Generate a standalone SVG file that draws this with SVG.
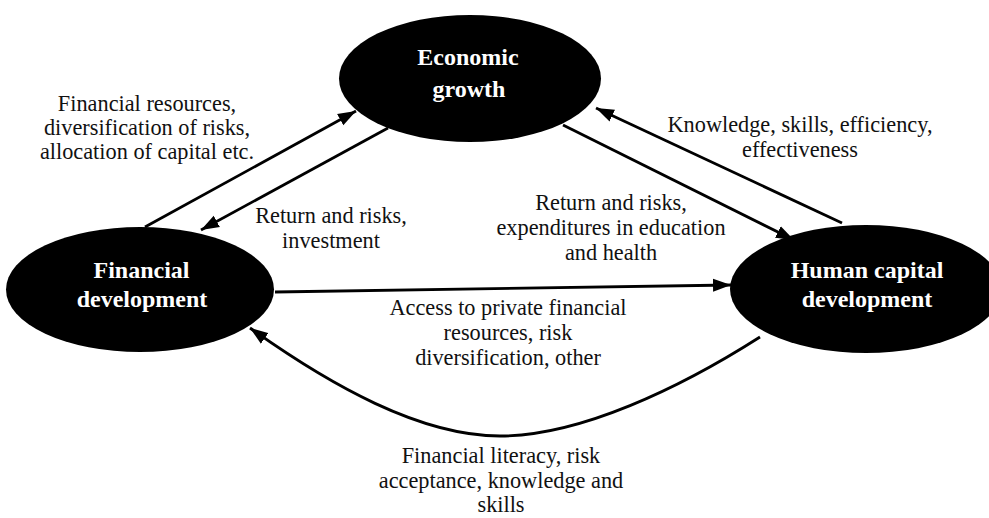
<svg xmlns="http://www.w3.org/2000/svg" width="989" height="518" viewBox="0 0 989 518">
  <style>
    .node { fill: #000; }
    .node-label { font-family: "Liberation Serif", "Times New Roman", serif; font-weight: bold; font-size: 24px; fill: #fff; text-anchor: middle; }
    .edge { fill: none; stroke: #000; stroke-width: 2.8; }
    .edge-label { font-family: "Liberation Serif", "Times New Roman", serif; font-size: 22.3px; fill: #111; text-anchor: middle; }
  </style>
  <defs>
    <marker id="arrow" markerUnits="userSpaceOnUse" markerWidth="20" markerHeight="14" refX="18" refY="7" orient="auto">
      <path d="M0,0.5 L18,7 L0,13.5 Z" fill="#000"/>
    </marker>
  </defs>
  <rect width="989" height="518" fill="#fff"/>

  <g id="edges">
    <path class="edge" marker-end="url(#arrow)" d="M145,227 L356,111"/>
    <path class="edge" marker-end="url(#arrow)" d="M388,128 L201,230"/>
    <path class="edge" marker-end="url(#arrow)" d="M563,125 L794,240"/>
    <path class="edge" marker-end="url(#arrow)" d="M842,223 L596,108"/>
    <path class="edge" marker-end="url(#arrow)" d="M275,292 L731,285"/>
    <path class="edge" marker-end="url(#arrow)" d="M760,337 C680,388 580,436 500,436 C420,436 330,385 250,328"/>
  </g>

  <g id="economic-growth">
    <ellipse class="node" cx="470" cy="78.5" rx="131" ry="63.5"/>
    <text class="node-label" x="468" y="65">Economic</text>
    <text class="node-label" x="469" y="97">growth</text>
  </g>

  <g id="financial-development">
    <ellipse class="node" cx="140" cy="289.5" rx="134" ry="62.5"/>
    <text class="node-label" x="141.5" y="278">Financial</text>
    <text class="node-label" x="142" y="307">development</text>
  </g>

  <g id="human-capital-development">
    <ellipse class="node" cx="866" cy="289" rx="136" ry="64"/>
    <text class="node-label" x="867" y="278">Human capital</text>
    <text class="node-label" x="867" y="307">development</text>
  </g>

  <g id="edge-labels">
    <text class="edge-label" x="147" y="111">Financial resources,</text>
    <text class="edge-label" x="147" y="135">diversification of risks,</text>
    <text class="edge-label" x="147" y="159">allocation of capital etc.</text>

    <text class="edge-label" x="331" y="223">Return and risks,</text>
    <text class="edge-label" x="331" y="248">investment</text>

    <text class="edge-label" x="800" y="132">Knowledge, skills, efficiency,</text>
    <text class="edge-label" x="800" y="157">effectiveness</text>

    <text class="edge-label" x="611" y="210">Return and risks,</text>
    <text class="edge-label" x="611" y="235">expenditures in education</text>
    <text class="edge-label" x="611" y="260">and health</text>

    <text class="edge-label" x="508" y="315">Access to private financial</text>
    <text class="edge-label" x="508" y="340">resources, risk</text>
    <text class="edge-label" x="508" y="365">diversification, other</text>

    <text class="edge-label" x="501" y="463">Financial literacy, risk</text>
    <text class="edge-label" x="501" y="488">acceptance, knowledge and</text>
    <text class="edge-label" x="501" y="512">skills</text>
  </g>
</svg>
